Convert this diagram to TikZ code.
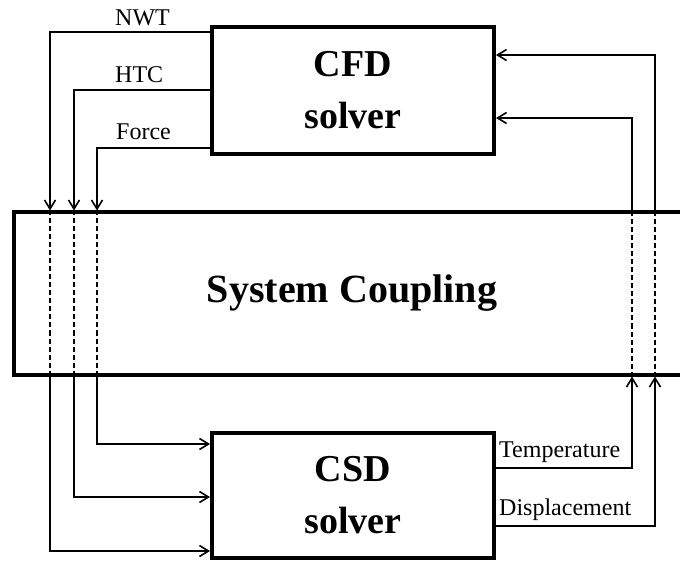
\documentclass[tikz,border=0pt]{standalone}
\usepackage{fontspec}
\setmainfont{Liberation Serif}
\usetikzlibrary{arrows.meta}

\begin{document}
\begin{tikzpicture}[x=1pt,y=-1pt,
    box/.style={draw,line width=4pt,minimum width=282pt,inner sep=0pt,align=center,
      font=\fontsize{38}{52}\selectfont\bfseries},
    flow/.style={line width=1.6pt,-{Straight Barb[length=9pt,width=11pt]}},
    pass/.style={line width=1.6pt,dash pattern=on 5pt off 3pt},
    lbl/.style={font=\fontsize{24}{28}\selectfont,inner sep=0pt,anchor=base west}]
  \useasboundingbox (0,0) rectangle (680,561);

  \node[box,minimum height=127pt] (cfd) at (353,90.5) {CFD\\solver};
  \node[box,minimum height=125pt] (csd) at (353,495.5) {CSD\\solver};
  \node[box,minimum width=676pt,minimum height=162pt,
        font=\fontsize{40}{48}\selectfont\bfseries] (sc) at (352,293.5) {System Coupling};

  % CFD -> coupling -> CSD
  \foreach \ch/\x/\ya/\yb in {nwt/50/32/551, htc/74/90/497, force/97/148/444} {
    \coordinate (\ch-a) at (\x,\ya);
    \coordinate (\ch-b) at (\x,\yb);
    \draw[flow] (cfd.west |- \ch-a) -| (\ch-a |- sc.north);
    \draw[pass] (\ch-a |- sc.north) -- (\ch-a |- sc.south);
    \draw[flow] (\ch-b |- sc.south) |- (csd.west |- \ch-b);
  }

  % CSD -> coupling -> CFD
  \foreach \ch/\x/\ya/\yb in {temp/632/118/468, disp/655/55/526} {
    \coordinate (\ch-a) at (\x,\ya);
    \coordinate (\ch-b) at (\x,\yb);
    \draw[flow] (csd.east |- \ch-b) -| (\ch-b |- sc.south);
    \draw[pass] (\ch-b |- sc.south) -- (\ch-b |- sc.north);
    \draw[flow] (\ch-a |- sc.north) |- (cfd.east |- \ch-a);
  }

  \node[lbl] (nwt-l) at (115,26) {NWT};
  \node[lbl] (htc-l) at (115,83) {HTC};
  \node[lbl] (force-l) at (116,140) {Force};
  \node[lbl] (temp-l) at (499,457) {Temperature};
  \node[lbl] (disp-l) at (499,515) {Displacement};
\end{tikzpicture}
\end{document}
